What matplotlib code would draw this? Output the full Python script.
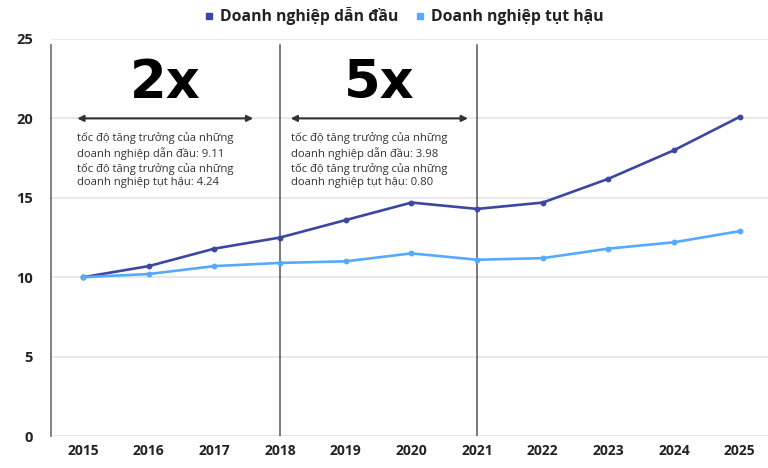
import matplotlib
matplotlib.use("Agg")
import matplotlib.pyplot as plt
from matplotlib.lines import Line2D

plt.rcParams['font.family'] = ['Open Sans', 'DejaVu Sans']

years = [2015, 2016, 2017, 2018, 2019, 2020, 2021, 2022, 2023, 2024, 2025]
leading = [10.0, 10.7, 11.8, 12.5, 13.6, 14.7, 14.3, 14.7, 16.2, 18.0, 20.1]
lagging = [10.0, 10.2, 10.7, 10.9, 11.0, 11.5, 11.1, 11.2, 11.8, 12.2, 12.9]
series_names = ["Doanh nghiệp dẫn đầu", "Doanh nghiệp tụt hậu"]
yticks = [0, 5, 10, 15, 20, 25]

periods = [(2015, 2018), (2018, 2021)]
multipliers = ["2x", "5x"]
notes = [
    "tốc độ tăng trưởng của những\ndoanh nghiệp dẫn đầu: 9.11\ntốc độ tăng trưởng của những\ndoanh nghiệp tụt hậu: 4.24",
    "tốc độ tăng trưởng của những\ndoanh nghiệp dẫn đầu: 3.98\ntốc độ tăng trưởng của những\ndoanh nghiệp tụt hậu: 0.80",
]
boundaries = [2018, 2021]

# layout offsets of the arrows relative to each period (style, not data)
arrow_pads = [(-0.09, -0.41), (0.16, -0.14)]

c_lead = "#3B47A0"
c_lag = "#55AAFF"
dark = "#222222"

fig = plt.figure(figsize=(7.68, 4.68), dpi=100)
ax = fig.add_axes([51/768, 1-436/468, 1-51/768, (436-39)/468])

ax.set_xlim(2014.51, 2025.43)
ax.set_ylim(0, 25)

for y in yticks:
    ax.axhline(y, color="#e4e4e4", lw=1.2, zorder=0)

for b in boundaries:
    ax.axvline(b, ymin=0, ymax=0.985, color="#555555", lw=1.1, zorder=1)

ax.plot(years, leading, color=c_lead, lw=1.9, marker='o', ms=3.2, label=series_names[0], zorder=3)
ax.plot(years, lagging, color=c_lag, lw=1.9, marker='o', ms=3.2, label=series_names[1], zorder=3)

for s in ['top', 'right', 'bottom']:
    ax.spines[s].set_visible(False)
ax.spines['left'].set_color("#777777")
ax.spines['left'].set_linewidth(1.3)
ax.spines['left'].set_bounds(0, 24.6)

ax.set_yticks(yticks)
ax.set_xticks(years)
ax.tick_params(length=0, pad=6)
ax.tick_params(axis='y', pad=13)
for lab in ax.get_yticklabels():
    lab.set_fontweight('bold'); lab.set_fontsize(10.5); lab.set_color(dark)
for lab in ax.get_xticklabels():
    lab.set_fontweight('bold'); lab.set_fontsize(10); lab.set_color(dark)

for (x0, x1), (p0, p1), m, note in zip(periods, arrow_pads, multipliers, notes):
    a0 = x0 + p0
    a1 = x1 + p1
    ax.annotate("", xy=(a0, 20), xytext=(a1, 20),
                arrowprops=dict(arrowstyle="<|-|>", color="#333333", lw=1.5,
                                mutation_scale=9, shrinkA=0, shrinkB=0), zorder=4)
    ax.text((a0 + a1) / 2, 22.2, m, fontsize=38, fontweight='bold',
            ha='center', va='center', color="#000000", family=['DejaVu Sans'])
    ax.text(a0, 19.15, note, fontsize=8.1, ha='left', va='top', color="#333333",
            linespacing=1.3)

labels = series_names
h = [Line2D([], [], ls='none', marker='s', ms=4.5, color=c) for c in (c_lead, c_lag)]
fig.legend(h, labels, loc='center', bbox_to_anchor=(403/768, 1-16/468), ncol=2,
           frameon=False, prop=dict(weight='bold', size=11.3), handletextpad=0.3,
           columnspacing=1.0, handlelength=0.8, labelcolor=dark)

fig.savefig("out.png", dpi=100)
